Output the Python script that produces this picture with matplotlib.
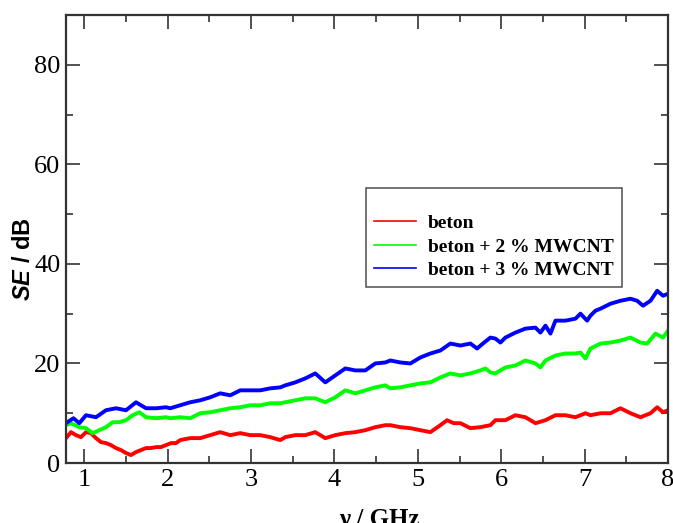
import matplotlib
matplotlib.use("Agg")
import matplotlib.pyplot as plt
from matplotlib.ticker import MultipleLocator

# readings from the plot (frequency in GHz, SE in dB)
freq_beton = [0.78, 0.84, 0.90, 0.96, 1.02, 1.08, 1.14, 1.20, 1.26, 1.32, 1.38, 1.44, 1.50,
              1.56, 1.62, 1.68, 1.74, 1.80, 1.86, 1.92, 1.98, 2.04, 2.10, 2.15, 2.27, 2.39,
              2.51, 2.63, 2.75, 2.87, 2.99, 3.11, 3.23, 3.35, 3.41, 3.53, 3.65, 3.77, 3.89,
              4.01, 4.13, 4.25, 4.37, 4.49, 4.61, 4.67, 4.79, 4.91, 5.03, 5.15, 5.27, 5.35,
              5.43, 5.51, 5.63, 5.75, 5.87, 5.93, 6.05, 6.17, 6.29, 6.41, 6.53, 6.65, 6.77,
              6.89, 7.01, 7.07, 7.19, 7.31, 7.43, 7.55, 7.67, 7.79, 7.87, 7.94, 8.00]
se_beton = [5.0, 6.2, 5.6, 5.2, 6.2, 6.0, 5.0, 4.2, 4.0, 3.6, 3.0, 2.6, 2.0,
            1.6, 2.2, 2.6, 3.0, 3.0, 3.2, 3.2, 3.6, 4.0, 4.0, 4.6, 5.0, 5.0,
            5.6, 6.2, 5.6, 6.0, 5.6, 5.6, 5.2, 4.6, 5.2, 5.6, 5.6, 6.2, 5.0,
            5.6, 6.0, 6.2, 6.6, 7.2, 7.6, 7.6, 7.2, 7.0, 6.6, 6.2, 7.6, 8.6,
            8.0, 8.0, 7.0, 7.2, 7.6, 8.6, 8.6, 9.6, 9.2, 8.0, 8.6, 9.6, 9.6,
            9.2, 10.0, 9.6, 10.0, 10.0, 11.0, 10.0, 9.2, 10.0, 11.2, 10.2, 10.6]

freq_2cnt = [0.78, 0.84, 0.94, 1.02, 1.10, 1.18, 1.26, 1.34, 1.42, 1.50, 1.58, 1.66, 1.74,
             1.86, 1.98, 2.03, 2.15, 2.27, 2.39, 2.51, 2.63, 2.75, 2.87, 2.99, 3.11, 3.23,
             3.35, 3.41, 3.53, 3.65, 3.77, 3.89, 4.01, 4.13, 4.25, 4.37, 4.49, 4.61, 4.67,
             4.79, 4.91, 5.03, 5.15, 5.27, 5.39, 5.51, 5.63, 5.75, 5.81, 5.87, 5.93, 6.05,
             6.17, 6.29, 6.41, 6.47, 6.53, 6.65, 6.77, 6.89, 6.95, 7.01, 7.07, 7.19, 7.31,
             7.43, 7.55, 7.67, 7.75, 7.85, 7.94, 8.00]
se_2cnt = [7.6, 8.0, 7.2, 7.0, 6.0, 6.6, 7.2, 8.2, 8.2, 8.6, 9.6, 10.2, 9.2,
           9.0, 9.2, 9.0, 9.2, 9.0, 10.0, 10.2, 10.6, 11.0, 11.2, 11.6, 11.6, 12.0,
           12.0, 12.2, 12.6, 13.0, 13.0, 12.2, 13.2, 14.6, 14.0, 14.6, 15.2, 15.6, 15.0,
           15.2, 15.6, 16.0, 16.2, 17.2, 18.0, 17.6, 18.0, 18.6, 19.0, 18.2, 18.0, 19.2,
           19.6, 20.6, 20.0, 19.2, 20.6, 21.6, 22.0, 22.0, 22.2, 21.0, 23.0, 24.0, 24.2,
           24.6, 25.2, 24.2, 24.0, 26.0, 25.2, 26.6]

freq_3cnt = [0.78, 0.87, 0.94, 1.02, 1.14, 1.26, 1.38, 1.50, 1.62, 1.74, 1.86, 1.98, 2.03,
             2.15, 2.27, 2.39, 2.51, 2.63, 2.75, 2.87, 2.99, 3.11, 3.23, 3.35, 3.41, 3.53,
             3.65, 3.77, 3.89, 4.01, 4.13, 4.25, 4.37, 4.49, 4.61, 4.67, 4.79, 4.91, 5.03,
             5.15, 5.27, 5.39, 5.51, 5.63, 5.71, 5.78, 5.87, 5.93, 5.99, 6.05, 6.17, 6.29,
             6.41, 6.47, 6.53, 6.59, 6.65, 6.77, 6.89, 6.95, 7.03, 7.07, 7.13, 7.19, 7.31,
             7.43, 7.55, 7.63, 7.70, 7.79, 7.87, 7.94, 8.00]
se_3cnt = [8.0, 9.0, 8.0, 9.6, 9.2, 10.6, 11.0, 10.6, 12.2, 11.0, 11.0, 11.2, 11.0,
           11.6, 12.2, 12.6, 13.2, 14.0, 13.6, 14.6, 14.6, 14.6, 15.0, 15.2, 15.6, 16.2,
           17.0, 18.0, 16.2, 17.6, 19.0, 18.6, 18.6, 20.0, 20.2, 20.6, 20.2, 20.0, 21.2,
           22.0, 22.6, 24.0, 23.6, 24.0, 23.0, 24.0, 25.2, 25.0, 24.2, 25.2, 26.2, 27.0,
           27.2, 26.2, 27.6, 26.0, 28.6, 28.6, 29.0, 30.0, 28.6, 29.6, 30.6, 31.0, 32.0,
           32.6, 33.0, 32.6, 31.6, 32.6, 34.6, 33.6, 34.0]

labels = ["beton", "beton + 2 % MWCNT", "beton + 3 % MWCNT"]

plt.rcParams['mathtext.fontset'] = 'custom'
plt.rcParams['mathtext.it'] = 'Liberation Sans:style=italic:weight=bold'

fig = plt.figure(figsize=(6.73, 5.23), dpi=100)
ax = fig.add_axes([0.098, 0.1147, 0.8946, 0.8566])

ax.plot(freq_beton, se_beton, color='#ff0000', lw=2.8, label=labels[0])
ax.plot(freq_2cnt, se_2cnt, color='#00ff00', lw=2.8, label=labels[1])
ax.plot(freq_3cnt, se_3cnt, color='#0000ff', lw=2.8, label=labels[2])

ax.set_xlim(0.78, 8.0)
ax.set_ylim(0, 90)
ax.xaxis.set_major_locator(MultipleLocator(1))
ax.xaxis.set_minor_locator(MultipleLocator(0.5))
ax.yaxis.set_minor_locator(MultipleLocator(10))
ax.set_yticks([0, 20, 40, 60, 80])
ax.tick_params(which='both', direction='in', top=True, right=True, width=1.2, color='#333333')
ax.tick_params(which='major', length=10, labelsize=19, pad=4)
ax.tick_params(which='minor', length=5)
for lab in ax.get_xticklabels() + ax.get_yticklabels():
    lab.set_family('Liberation Serif')
for sp in ax.spines.values():
    sp.set_linewidth(1.6)
    sp.set_color('#333333')

ax.set_ylabel(r"$\mathit{SE}$ / dB", fontsize=17, fontweight='bold', family='Liberation Sans')
ax.yaxis.set_label_coords(-0.052, 0.454)
ax.set_xlabel("ν / GHz", fontsize=18, fontweight='bold', family='Liberation Serif')
ax.xaxis.set_label_coords(0.52, -0.1)

leg = ax.legend(loc='upper left', bbox_to_anchor=(0.498, 0.614), borderaxespad=0, title=" ",
                prop={'family': 'Liberation Serif', 'weight': 'bold', 'size': 14},
                frameon=True, fancybox=False, handlelength=2.2, handletextpad=0.6,
                labelspacing=0.3, borderpad=0.4, title_fontsize=9)
leg.get_frame().set_edgecolor('#333333')
leg.get_frame().set_linewidth(1.2)
for line in leg.get_lines():
    line.set_linewidth(1.2)

fig.savefig("out.png", dpi=100)
